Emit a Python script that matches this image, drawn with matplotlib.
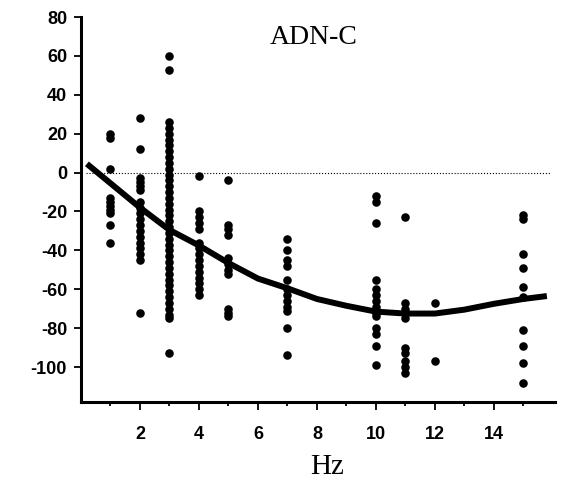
import numpy as np
import matplotlib.pyplot as plt

plt.rcParams['axes.unicode_minus'] = False

# frequencies (Hz) and the measured values in each column
hz = [1, 2, 3, 4, 5, 7, 10, 11, 12, 15]
vals_1 = [20, 18, 2, -13, -15, -17, -19, -21, -27, -36]
vals_2 = [28, 12, -3, -5, -7, -9, -15, -18, -21, -24, -27, -30, -33, -36, -39, -42, -45, -72]
vals_3 = [60, 53, 26, 23, 20, 17, 14, 11, 8, 5, 2, -1, -4, -7, -10, -13, -16, -19,
          -22, -25, -28, -31, -34, -37, -40, -43, -46, -49, -52, -55, -58, -61, -64,
          -67, -70, -73, -75, -93]
vals_4 = [-2, -20, -23, -26, -29, -36, -39, -42, -45, -48, -51, -54, -57, -60, -63]
vals_5 = [-4, -27, -29, -32, -44, -47, -50, -52, -70, -72, -74]
vals_7 = [-34, -40, -45, -48, -55, -60, -63, -66, -69, -71, -80, -94]
vals_10 = [-12, -15, -26, -55, -60, -63, -66, -69, -72, -74, -80, -83, -89, -99]
vals_11 = [-23, -67, -70, -72, -75, -90, -93, -97, -100, -103]
vals_12 = [-67, -97]
vals_15 = [-22, -24, -42, -49, -59, -64, -81, -89, -98, -108]
columns = [vals_1, vals_2, vals_3, vals_4, vals_5, vals_7, vals_10, vals_11, vals_12, vals_15]

# fitted curve
curve_x = [0.2, 1, 2, 3, 3.5, 4, 5, 6, 7, 8, 9, 10, 11, 12, 13, 14, 15, 15.8]
curve_y = [4.5, -5.5, -18, -29.5, -33.5, -37.5, -46.5, -54.5, -59.5, -65, -68.5, -71.5,
           -72.5, -72.5, -70.5, -67.5, -65, -63.5]

fig = plt.figure(figsize=(5.61, 4.87), dpi=100)
ax = fig.add_axes([0.1444, 0.1745, 0.8446, 0.7905])

for x, col in zip(hz, columns):
    ax.scatter([x] * len(col), col, s=38, color='black', zorder=3, linewidths=0)

ax.plot(curve_x, curve_y, color='black', linewidth=4.3, solid_capstyle='butt', zorder=4)
ax.plot([0.16, 15.9], [0, 0], color='black', linestyle=':', linewidth=0.8)

ax.set_xlim(0, 16.07)
ax.set_ylim(-118, 80)
ax.set_xticks([2, 4, 6, 8, 10, 12, 14])
ax.set_xticks([1, 3, 5, 7, 9, 11, 13, 15], minor=True)
ax.set_yticks(np.arange(-100, 81, 20))

for s in ['top', 'right']:
    ax.spines[s].set_visible(False)
for s in ['left', 'bottom']:
    ax.spines[s].set_linewidth(2.2)

ax.tick_params(axis='x', which='major', direction='out', width=1.3, length=6, pad=11)
ax.tick_params(axis='x', which='minor', direction='out', width=1.3, length=3)
ax.tick_params(axis='y', which='major', direction='out', width=1.3, length=5, pad=5)
for lab in ax.get_xticklabels() + ax.get_yticklabels():
    lab.set_fontfamily('Liberation Sans')
    lab.set_fontweight('bold')
    lab.set_fontsize(13)

ax.text(7.9, 66, 'ADN-C', fontfamily='Liberation Serif', fontsize=20, ha='center', va='baseline')
ax.set_xlabel('Hz', fontfamily='Liberation Serif', fontsize=21)
ax.xaxis.set_label_coords(0.52, -0.135)

fig.savefig('out.png', dpi=100)
